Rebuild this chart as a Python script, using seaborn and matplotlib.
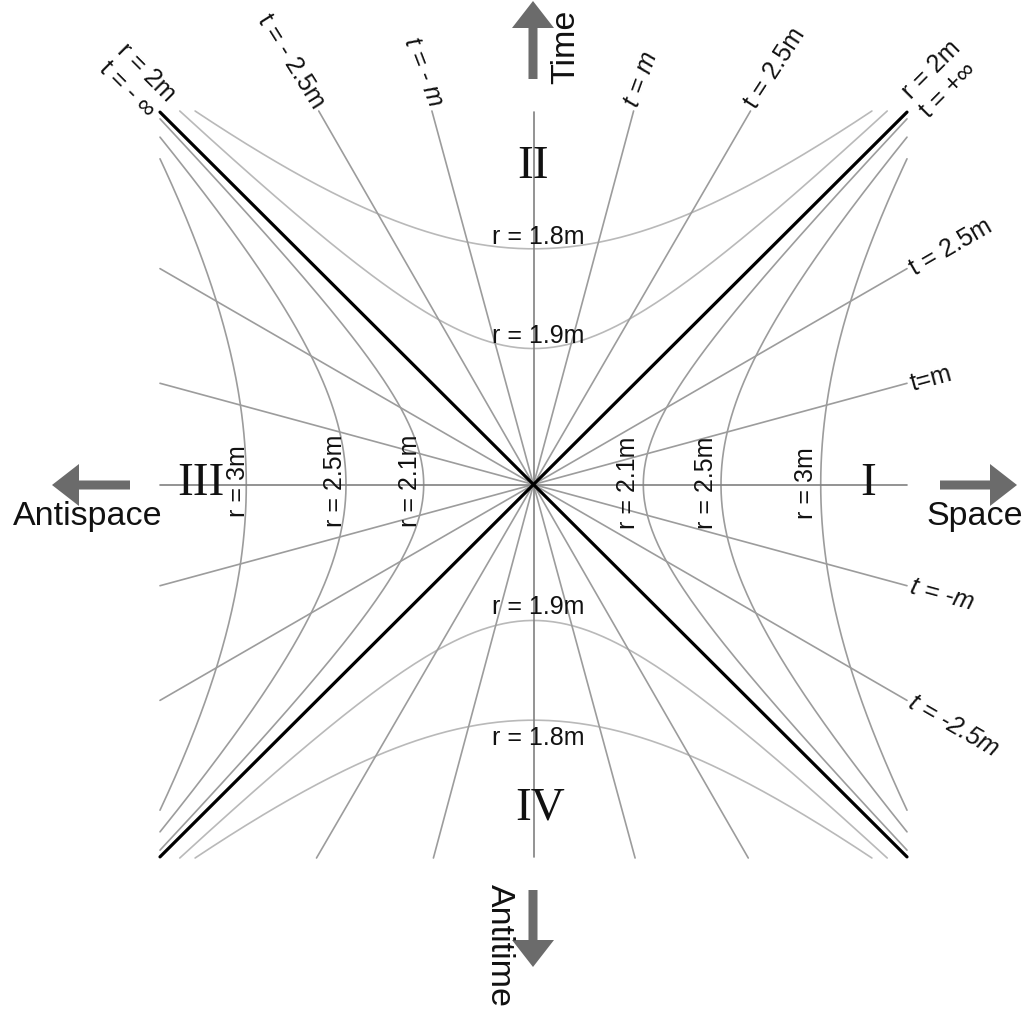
import numpy as np
import pandas as pd
import matplotlib
matplotlib.use("Agg")
import matplotlib.pyplot as plt
import seaborn as sns
from matplotlib.patches import FancyArrow

# ---------------- data ----------------
# t = const lines crossing regions I / III : slope T/X
t_side_labels = ["t = 2.5m", "t=m", "t = -m", "t = -2.5m"]
t_side_slopes = [0.578, 0.271, -0.271, -0.578]
t_side_italic = [False, False, True, True]
# t = const lines crossing regions II / IV : slope X/T
t_top_labels = ["t = - 2.5m", "t = - m", "t = m", "t = 2.5m"]
t_top_slopes = [-0.575, -0.272, 0.268, 0.581]
t_top_italic = [False, True, True, False]
# r = const curves in regions I / III (vertex on X axis, height where they meet the side edge)
r_out_labels = ["r = 2.1m", "r = 2.5m", "r = 3m"]
r_out_vertex = [0.294, 0.502, 0.769]
r_out_edge = [0.979, 0.930, 0.872]
# r = const curves in regions II / IV (vertex on T axis, X where they meet the top edge)
r_in_labels = ["r = 1.9m", "r = 1.8m"]
r_in_vertex = [0.364, 0.631]
r_in_edge = [0.947, 0.906]
region_labels = ["I", "II", "III", "IV"]
horizon_labels = [("r = 2m", "t = +\u221e"), ("r = 2m", "t = - \u221e")]
arrow_labels = ["Time", "Antitime", "Space", "Antispace"]

# ---------------- geometry helpers ----------------
CX, CY, U = 533.5, 485.5, 373.5
def P(px, py):
    return (px - CX) / U, (CY - py) / U

sns.set_theme(style="white")
plt.rcParams["font.family"] = ["Liberation Sans", "DejaVu Sans"]
plt.rcParams["text.color"] = "#111111"

fig = plt.figure(figsize=(10.24, 10.12), dpi=100)
ax = fig.add_axes([0, 0, 1, 1])
x0, y1 = P(0, 0)
x1, y0 = P(1024, 1012)
ax.set_xlim(x0, x1)
ax.set_ylim(y0, y1)
ax.axis("off")

# ---- build line tables ----
rows = []
def add(name, xs, ys):
    for x, y in zip(xs, ys):
        rows.append({"id": name, "x": x, "y": y})

for lab, s in zip(t_side_labels, t_side_slopes):
    add("side " + lab, [-1.0, 1.0], [-s, s])
for lab, k in zip(t_top_labels, t_top_slopes):
    add("top " + lab, [-k, k], [-1.0, 1.0])
lines_df = pd.DataFrame(rows)

rows = []
for lab, a, te in zip(r_out_labels, r_out_vertex, r_out_edge):
    b = te / np.sqrt(1.0 / a**2 - 1.0)
    T = np.linspace(-te, te, 200)
    X = a * np.sqrt(1 + T**2 / b**2)
    add("I " + lab, X, T)
    add("III " + lab, -X, T)
out_df = pd.DataFrame(rows)

rows = []
for lab, a, xe in zip(r_in_labels, r_in_vertex, r_in_edge):
    b = xe / np.sqrt(1.0 / a**2 - 1.0)
    X = np.linspace(-xe, xe, 200)
    T = a * np.sqrt(1 + X**2 / b**2)
    add("II " + lab, X, T)
    add("IV " + lab, X, -T)
in_df = pd.DataFrame(rows)

axes_df = pd.DataFrame({"id": ["h", "h", "v", "v"],
                        "x": [-1.0, 1.0, 0.0, 0.0],
                        "y": [0.0, 0.0, -0.997, 0.997]})
diag_df = pd.DataFrame({"id": ["d1", "d1", "d2", "d2"],
                        "x": [-1.0, 1.0, -1.0, 1.0],
                        "y": [-0.997, 0.997, 0.997, -0.997]})

common = dict(x="x", y="y", units="id", estimator=None, sort=False, ax=ax, legend=False)
sns.lineplot(data=in_df, color="#b9b9b9", lw=1.2, **common)
sns.lineplot(data=out_df, color="#9c9c9c", lw=1.2, **common)
sns.lineplot(data=lines_df, color="#9c9c9c", lw=1.2, **common)
sns.lineplot(data=axes_df, color="#808080", lw=1.2, **common)
sns.lineplot(data=diag_df, color="#000000", lw=2.3, **common)

# ---------------- labels ----------------
FS = 18
def txt(px, py, s, **kw):
    x, y = P(px, py)
    ax.text(x, y, s, color="#111111", **kw)

# side t labels
for lab, s, it in zip(t_side_labels, t_side_slopes, t_side_italic):
    py = CY - s * U
    ang = np.degrees(np.arctan(s))
    txt(911, py, lab, fontsize=FS, rotation=ang, rotation_mode="anchor",
        ha="left", va="center", style="italic" if it else "normal")

# top t labels
top_anchor = [(319, 106), (436, 106), (631, 106), (750, 106)]
top_rot = [-58, -69, 70, 57]
for lab, (px, py), rot, it in zip(t_top_labels, top_anchor, top_rot, t_top_italic):
    txt(px, py, lab, fontsize=FS, rotation=rot, rotation_mode="anchor",
        ha="left" if rot > 0 else "right", va="center",
        style="italic" if it else "normal")

# r labels regions I / III
out_pos_right = [628, 706, 806]
out_pos_left = [410, 335, 238]
for lab, xr, xl in zip(r_out_labels, out_pos_right, out_pos_left):
    txt(xr, 483, lab, fontsize=FS, rotation=90, ha="center", va="center")
    txt(xl, 481, lab, fontsize=FS, rotation=90, ha="center", va="center")

# r labels regions II / IV
in_pos_top = [336, 237]
in_pos_bot = [607, 738]
for lab, yt, yb in zip(r_in_labels, in_pos_top, in_pos_bot):
    txt(538, yt, lab, fontsize=FS, ha="center", va="center")
    txt(538, yb, lab, fontsize=FS, ha="center", va="center")

# horizon labels
(tr1, tr2), (tl1, tl2) = horizon_labels
txt(911, 100, tr1, fontsize=FS, rotation=45, rotation_mode="anchor", ha="left", va="baseline")
txt(929, 119, tr2, fontsize=FS, rotation=45, rotation_mode="anchor", ha="left", va="baseline")
txt(116, 52, tl1, fontsize=FS, rotation=-45, rotation_mode="anchor", ha="left", va="baseline")
txt(98, 70, tl2, fontsize=FS, rotation=-45, rotation_mode="anchor", ha="left", va="baseline")

# region numerals
serif = ["Liberation Serif", "DejaVu Serif"]
reg_pos = [(868, 484), (533, 167), (201, 484), (540, 808)]
for lab, (px, py) in zip(region_labels, reg_pos):
    txt(px, py, lab, fontsize=34, family=serif, ha="center", va="center")

# ---------------- arrows ----------------
AC = "#6b6b6b"
def arrow(p_from, p_to):
    xa, ya = P(*p_from)
    xb, yb = P(*p_to)
    ax.add_patch(FancyArrow(xa, ya, xb - xa, yb - ya, width=9 / U,
                            head_width=42 / U, head_length=27 / U,
                            length_includes_head=True, color=AC, lw=0))

arrow((533, 80), (533, 2))
arrow((533, 891), (533, 968))
arrow((940, 486), (1017, 486))
arrow((130, 486), (52, 486))

AFS = 24.5
txt(566, 47, arrow_labels[0], fontsize=AFS, rotation=90, ha="center", va="center")
txt(499, 946, arrow_labels[1], fontsize=AFS, rotation=-90, ha="center", va="center")
txt(975, 517, arrow_labels[2], fontsize=AFS, ha="center", va="center")
txt(88, 517, arrow_labels[3], fontsize=AFS, ha="center", va="center")

fig.savefig("out.png", dpi=100, facecolor="white")
